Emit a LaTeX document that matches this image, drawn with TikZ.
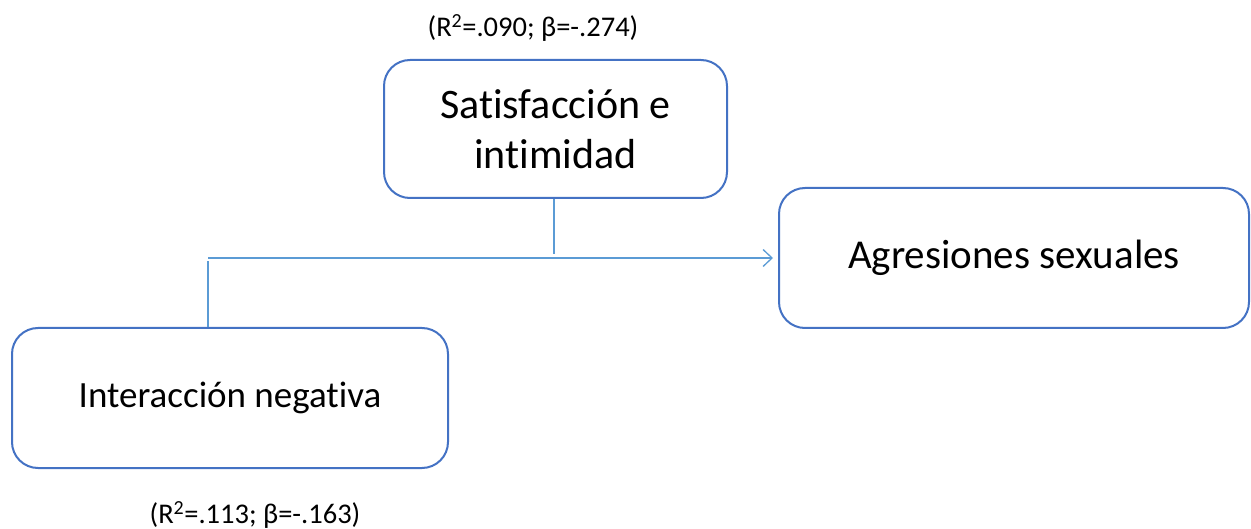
\documentclass[tikz,border=0pt]{standalone}
\usepackage{fontspec}
\setmainfont{Carlito}[Ligatures=NoCommon]
\usetikzlibrary{arrows.meta}
\definecolor{boxblue}{HTML}{4472C4}
\definecolor{lineblue}{HTML}{5B9BD5}
\begin{document}
\begin{tikzpicture}[x=1pt,y=-1pt,
  varbox/.style={draw=boxblue, line width=2pt, rounded corners=26pt, fill=white,
    align=center, inner sep=0pt},
  conn/.style={draw=lineblue, line width=1.3pt},
  stat/.style={font=\fontsize{28.5}{31}\selectfont, inner sep=0pt}]
\useasboundingbox (0,0) rectangle (1251,529);
\node[varbox, minimum width=343pt, minimum height=138pt] (sat) at (555.5,129)
  {\raisebox{-8pt}{\parbox{300pt}{\centering\fontsize{42}{50}\selectfont Satisfacción e\\ intimidad}}};
\node[varbox, minimum width=470pt, minimum height=140pt] (agr) at (1014,258)
  {\raisebox{-7pt}{\fontsize{41}{46}\selectfont Agresiones sexuales}};
\node[varbox, minimum width=436pt, minimum height=140pt] (neg) at (230,398)
  {\raisebox{-12pt}{\fontsize{37}{42}\selectfont Interacción negativa}};
\node[stat] (s1) at (533,28) {(R\textsuperscript{2}=.090; β=-.274)};
\node[stat] (s2) at (255,515) {(R\textsuperscript{2}=.113; β=-.163)};
\coordinate (j) at (208,258);
\coordinate (k) at (554,258);
\draw[conn] (neg.north -| j) -- ([yshift=-3pt]j);
\draw[conn] (sat.south -| k) -- ([yshift=4pt]k);
\draw[conn, -{Straight Barb[length=9pt,width=17pt]}] (j) -- ([xshift=-5pt]agr.west);
\end{tikzpicture}
\end{document}
